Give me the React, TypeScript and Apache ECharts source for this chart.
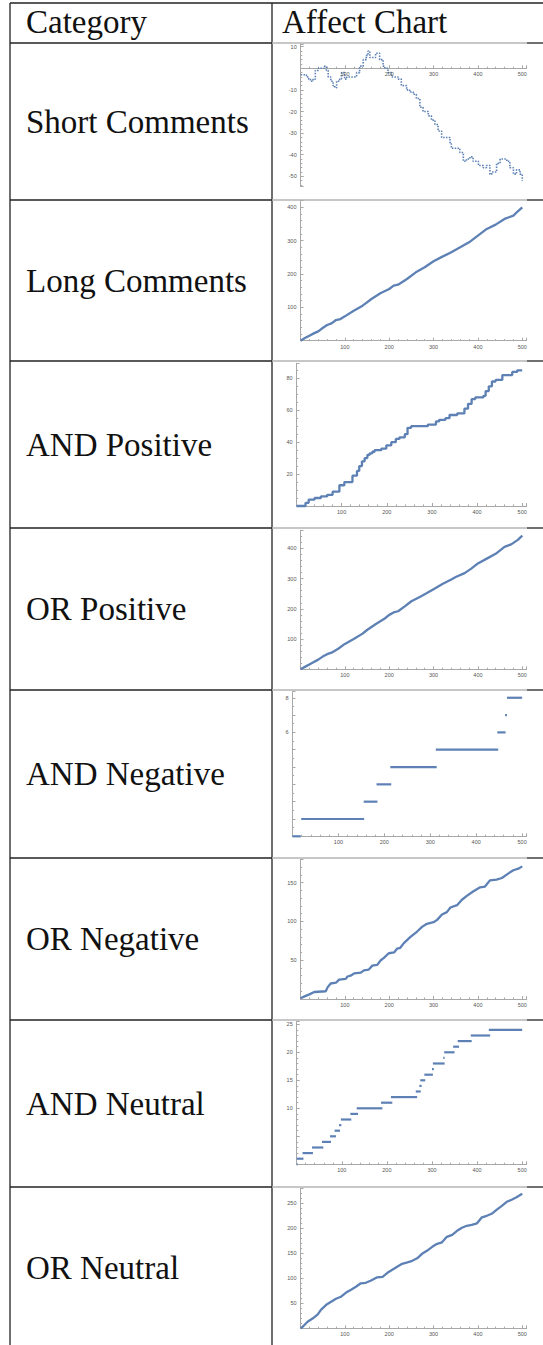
import React, { useEffect, useRef } from "react";
import * as echarts from "echarts";

// ---------- DATA ----------
const headers = ["Category", "Affect Chart"];
const categories = [
  "Short Comments",
  "Long Comments",
  "AND Positive",
  "OR Positive",
  "AND Negative",
  "OR Negative",
  "AND Neutral",
  "OR Neutral",
];
const xTickLabels = [100, 200, 300, 400, 500];

// step breakpoints [x, value]
const shortComments = [
  [0, -3], [13, -4], [18, -5], [22, -6], [28, -5], [33, -1], [40, 0], [54, 1], [58, -1], [62, -4],
  [68, -6], [73, -8], [77, -9], [81, -6], [88, -5], [92, -2], [99, -5], [104, -4], [122, -4], [126, -2],
  [133, 1], [141, 4], [148, 6], [152, 8], [156, 5], [163, 5], [169, 7], [175, 7], [178, 4], [186, 1],
  [190, 0], [197, -2], [205, -4], [212, -4], [220, -5], [227, -8], [239, -10], [246, -11], [254, -12], [261, -14],
  [269, -18], [276, -20], [288, -22], [295, -24], [303, -26], [310, -29], [318, -32], [329, -32], [337, -35], [340, -37],
  [352, -37], [359, -39], [367, -43], [374, -42], [382, -41], [389, -43], [401, -45], [412, -46], [419, -45], [427, -49],
  [431, -48], [442, -44], [450, -42], [457, -42], [465, -43], [472, -46], [480, -49], [487, -47], [495, -49], [500, -52],
];

const longComments = [
  [0, 0], [10, 8], [20, 15], [30, 22], [40, 28], [50, 38], [60, 47], [70, 52], [80, 62], [90, 65],
  [100, 73], [120, 90], [140, 105], [160, 125], [180, 142], [200, 155], [210, 165], [220, 168], [240, 185], [260, 205],
  [280, 220], [300, 238], [320, 252], [340, 265], [360, 280], [380, 295], [400, 315], [420, 335], [440, 348], [460, 365],
  [470, 370], [480, 375], [490, 388], [500, 400],
];

const andPositive = [
  [0, 0], [20, 2], [27, 4], [40, 5], [54, 6], [68, 7], [80, 9], [95, 13], [106, 15], [124, 19],
  [134, 22], [139, 25], [145, 28], [151, 30], [157, 32], [162, 33], [168, 34], [173, 35], [188, 36], [199, 38],
  [210, 40], [220, 42], [228, 43], [240, 45], [246, 49], [254, 50], [291, 51], [309, 53], [316, 54], [330, 55],
  [339, 57], [356, 58], [372, 61], [380, 64], [388, 67], [396, 68], [414, 69], [419, 72], [426, 75], [433, 78],
  [441, 79], [456, 82], [478, 84], [489, 85], [500, 85],
];

const orPositive = [
  [0, 0], [10, 8], [25, 20], [40, 32], [50, 42], [60, 50], [70, 55], [85, 68], [100, 84], [120, 100],
  [140, 118], [150, 130], [170, 150], [190, 168], [200, 180], [210, 188], [220, 192], [235, 208], [250, 225], [270, 240],
  [285, 252], [300, 265], [320, 282], [340, 297], [350, 305], [370, 318], [385, 333], [400, 350], [420, 366], [440, 382],
  [460, 405], [475, 413], [490, 428], [500, 442],
];

// segments [xStart, xEnd, value]
const andNegative = [
  [0, 18, 0], [19, 156, 1], [155, 185, 2], [183, 215, 3], [213, 314, 4], [312, 448, 5], [446, 464, 6], [463, 467, 7], [467, 500, 8],
];

const orNegative = [
  [0, 1], [8, 3], [20, 6], [31, 9], [57, 10], [61, 15], [68, 20], [80, 21], [87, 25], [102, 26],
  [106, 29], [113, 30], [121, 33], [136, 34], [143, 37], [154, 38], [162, 43], [173, 44], [181, 50], [188, 53],
  [199, 59], [211, 60], [218, 65], [225, 66], [233, 72], [248, 80], [263, 87], [274, 93], [285, 97], [300, 99],
  [308, 102], [319, 109], [330, 112], [338, 118], [353, 121], [364, 128], [375, 133], [390, 139], [405, 144], [416, 145],
  [427, 153], [442, 154], [454, 156], [469, 162], [480, 166], [491, 168], [500, 171],
];

const andNeutral = [
  [0, 2, 0], [0, 15, 1], [13, 36, 2], [34, 59, 3], [56, 76, 4], [74, 87, 5], [84, 96, 6], [94, 99, 7], [98, 121, 8],
  [119, 136, 9], [133, 190, 10], [187, 212, 11], [209, 267, 12], [264, 275, 13], [272, 277, 14], [274, 285, 15],
  [283, 302, 16], [300, 304, 17], [302, 328, 18], [325, 328, 19], [327, 350, 20], [347, 360, 21], [357, 388, 22],
  [386, 429, 23], [426, 500, 24],
];

const orNeutral = [
  [0, 0], [5, 3], [16, 13], [28, 20], [39, 28], [46, 37], [58, 47], [69, 53], [80, 59], [91, 63],
  [102, 71], [114, 77], [125, 83], [136, 90], [147, 91], [158, 95], [173, 102], [185, 103], [196, 111], [207, 117],
  [218, 123], [229, 129], [241, 132], [252, 135], [263, 140], [274, 149], [285, 155], [297, 163], [308, 169], [319, 172],
  [330, 183], [342, 187], [353, 195], [364, 201], [375, 205], [386, 207], [398, 210], [409, 222], [420, 225], [431, 229],
  [442, 237], [454, 245], [465, 253], [476, 257], [487, 262], [500, 269],
];

// y tick labels shown for each chart
const yLabels = [
  [10, -10, -20, -30, -40, -50],
  [100, 200, 300, 400],
  [20, 40, 60, 80],
  [100, 200, 300, 400],
  [6, 8],
  [50, 100, 150],
  [10, 15, 20, 25],
  [50, 100, 150, 200, 250],
];

// ---------- LAYOUT ----------
const W = 543;
const H = 1345;
const rowLines = [43, 200, 361, 528, 690, 858, 1020, 1187];
const rowEnd = 1349;
const chartRight = 526.7;

const charts = [
  { data: shortComments, kind: "dots", left: 300.7, top: 44, bottom: 186.7, yMin: -54.8, yMax: 11.25, interval: 0, minor: 5 },
  { data: longComments, kind: "line", left: 300.5, top: 200.6, bottom: 340.7, yMin: 0, yMax: 420, interval: 100, minor: 5 },
  { data: andPositive, kind: "step", left: 296.5, top: 363.3, bottom: 506, yMin: 0, yMax: 89.4, interval: 20, minor: 4 },
  { data: orPositive, kind: "line", left: 300.5, top: 530.2, bottom: 669.3, yMin: 0, yMax: 460, interval: 100, minor: 5 },
  { data: andNegative, kind: "seg", left: 292.5, top: 691.7, bottom: 836.3, yMin: 0, yMax: 8.35, interval: 1, minor: 2 },
  { data: orNegative, kind: "line", left: 300.5, top: 859.4, bottom: 999, yMin: 0, yMax: 180, interval: 50, minor: 5 },
  { data: andNeutral, kind: "seg", left: 296.7, top: 1021.5, bottom: 1164.3, yMin: 0, yMax: 25.5, interval: 5, minor: 5 },
  { data: orNeutral, kind: "line", left: 300.5, top: 1188.3, bottom: 1328.3, yMin: 0, yMax: 280, interval: 50, minor: 5 },
];

const BLUE = "#5e81b5";
const AXIS = "#a8a8a8";
const LABEL = "#555";
const TICKFONT = "Liberation Sans";
const TICKSIZE = 5.5;

const cellText: React.CSSProperties = {
  position: "absolute",
  fontFamily: "'Liberation Serif', 'Times New Roman', serif",
  fontSize: 33,
  lineHeight: "33px",
  color: "#111",
  whiteSpace: "nowrap",
  transform: "translateY(-50%)",
  margin: 0,
};

export default function App() {
  const ref = useRef<HTMLDivElement>(null);

  useEffect(() => {
    if (!ref.current) return;
    const chart = echarts.init(ref.current, undefined, { renderer: "svg" });

    const grid: any[] = [];
    const xAxis: any[] = [];
    const yAxis: any[] = [];
    const series: any[] = [];

    charts.forEach((c, i) => {
      const crossing = c.yMin < 0;
      grid.push({
        left: c.left,
        top: c.top,
        width: chartRight - c.left,
        height: c.bottom - c.top,
        containLabel: false,
      });
      xAxis.push({
        type: "value",
        gridIndex: i,
        min: 0,
        max: 510,
        interval: 100,
        axisLine: { show: true, onZero: true, lineStyle: { color: AXIS, width: 1 } },
        axisTick: { show: true, inside: true, length: 3, lineStyle: { color: AXIS } },
        minorTick: { show: true, splitNumber: 5, length: 1.6, lineStyle: { color: AXIS } },
        splitLine: { show: false },
        axisLabel: {
          show: !crossing,
          fontSize: TICKSIZE,
          fontFamily: TICKFONT,
          color: LABEL,
          margin: 3,
          formatter: (v: number) => (xTickLabels.includes(Math.round(v)) && Math.abs(v - Math.round(v)) < 1e-6 ? String(v) : ""),
        },
      });
      const ya: any = {
        type: "value",
        gridIndex: i,
        min: c.yMin,
        max: c.yMax,
        axisLine: { show: true, onZero: true, lineStyle: { color: AXIS, width: 1 } },
        axisTick: { show: true, inside: true, length: 3, lineStyle: { color: AXIS } },
        minorTick: { show: true, splitNumber: c.minor, length: 1.6, lineStyle: { color: AXIS } },
        splitLine: { show: false },
        axisLabel: {
          fontSize: TICKSIZE,
          fontFamily: TICKFONT,
          color: LABEL,
          margin: 4,
          formatter: (v: number) => {
            const r = Math.round(v);
            return Math.abs(v - r) < 1e-6 && yLabels[i].includes(r) ? String(r) : "";
          },
        },
      };
      if (c.interval) ya.interval = c.interval;
      else ya.splitNumber = 6;
      yAxis.push(ya);

      if (c.kind === "seg") {
        series.push({
          type: "custom",
          xAxisIndex: i,
          yAxisIndex: i,
          data: c.data,
          encode: { x: [0, 1], y: 2 },
          renderItem: (_p: any, api: any) => {
            const p0 = api.coord([api.value(0), api.value(2)]);
            const p1 = api.coord([api.value(1), api.value(2)]);
            return {
              type: "line",
              shape: { x1: p0[0], y1: p0[1], x2: p1[0], y2: p1[1] },
              style: { stroke: BLUE, lineWidth: 2.2 },
            };
          },
          clip: false,
        });
      } else {
        series.push({
          type: "line",
          xAxisIndex: i,
          yAxisIndex: i,
          data: c.data,
          showSymbol: false,
          symbol: "none",
          step: c.kind === "step" || c.kind === "dots" ? "end" : false,
          lineStyle:
            c.kind === "dots"
              ? { color: BLUE, width: 1.6, type: [1.5, 1.3] }
              : { color: BLUE, width: 2.3 },
          clip: false,
          z: 2,
        });
      }

      if (crossing) {
        series.push({
          type: "custom",
          xAxisIndex: i,
          yAxisIndex: i,
          data: xTickLabels.map((v) => [v, 0]),
          silent: true,
          clip: false,
          z: 3,
          renderItem: (_p: any, api: any) => {
            const pt = api.coord([api.value(0), api.value(1)]);
            return {
              type: "text",
              x: pt[0],
              y: pt[1] + 2.5,
              style: {
                text: String(api.value(0)),
                fontSize: TICKSIZE,
                fontFamily: TICKFONT,
                fill: LABEL,
                align: "center",
                verticalAlign: "top",
              },
            };
          },
        });
      }
    });

    // table lines
    const g: any[] = [];
    const dark = { stroke: "#222", lineWidth: 1.3 };
    const light = { stroke: "#b5b5b5", lineWidth: 1.3 };
    g.push({ type: "line", shape: { x1: 10, y1: 3, x2: W, y2: 3 }, style: dark });
    g.push({ type: "line", shape: { x1: 10, y1: 3, x2: 10, y2: H }, style: dark });
    g.push({ type: "line", shape: { x1: 272, y1: 3, x2: 272, y2: H }, style: dark });
    rowLines.forEach((y) => {
      g.push({ type: "line", shape: { x1: 10, y1: y, x2: 272, y2: y }, style: dark });
      g.push({ type: "line", shape: { x1: 272, y1: y, x2: 527, y2: y }, style: light });
      g.push({ type: "line", shape: { x1: 527, y1: y, x2: W, y2: y }, style: dark });
    });

    chart.setOption({
      animation: false,
      backgroundColor: "#fff",
      grid,
      xAxis,
      yAxis,
      series,
      graphic: { elements: g },
    });

    return () => chart.dispose();
  }, []);

  const rowCenter = (i: number) => {
    const y0 = rowLines[i];
    const y1 = i + 1 < rowLines.length ? rowLines[i + 1] : rowEnd;
    return (y0 + y1) / 2;
  };

  return (
    <div style={{ position: "absolute", left: 0, top: 0, width: W, height: H, overflow: "hidden" }}>
      <div ref={ref} style={{ position: "absolute", left: 0, top: 0, width: W, height: H }} />
      <div style={{ ...cellText, left: 26, top: 22 }}>{headers[0]}</div>
      <div style={{ ...cellText, left: 282, top: 22 }}>{headers[1]}</div>
      {categories.map((cat, i) => (
        <div key={cat} style={{ ...cellText, left: 26, top: rowCenter(i) }}>
          {cat}
        </div>
      ))}
    </div>
  );
}
